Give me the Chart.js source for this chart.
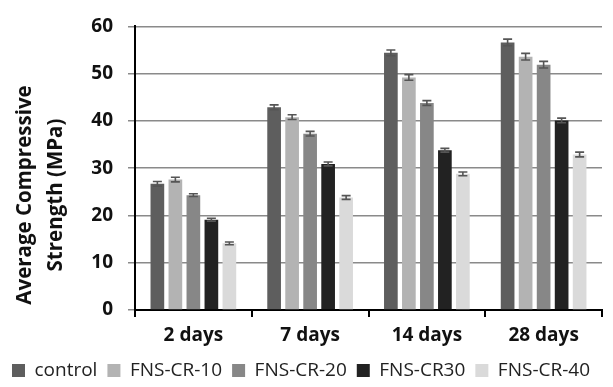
<!DOCTYPE html>
<html>
<head>
<meta charset="utf-8">
<script src="https://cdn.jsdelivr.net/npm/chart.js@4"></script>
<style>
  html, body { margin: 0; padding: 0; background: #fff; }
  #wrap { width: 613px; height: 387px; }
</style>
</head>
<body>
<div id="wrap"><canvas id="chart" width="613" height="387"></canvas></div>
<script>
const categories = ["2 days", "7 days", "14 days", "28 days"];
const seriesNames = ["control", "FNS-CR-10", "FNS-CR-20", "FNS-CR30", "FNS-CR-40"];
const control = [26.7, 42.9, 54.4, 56.6];
const fnsCr10 = [27.6, 40.8, 49.2, 53.6];
const fnsCr20 = [24.3, 37.3, 43.8, 51.9];
const fnsCr30 = [19.1, 30.9, 33.8, 40.1];
const fnsCr40 = [14.1, 23.8, 28.8, 32.9];
const errControl = [0.5, 0.5, 0.6, 0.7];
const errCr10 = [0.5, 0.5, 0.6, 0.7];
const errCr20 = [0.3, 0.5, 0.5, 0.7];
const errCr30 = [0.3, 0.4, 0.4, 0.5];
const errCr40 = [0.3, 0.4, 0.4, 0.5];
const yTicks = [0, 10, 20, 30, 40, 50, 60];
const yTitle = ["Average Compressive", "Strength (MPa)"];

const colors = ["#5e5e5e", "#b3b3b3", "#878787", "#222222", "#dadada"];
const values = [control, fnsCr10, fnsCr20, fnsCr30, fnsCr40];
const errors = [errControl, errCr10, errCr20, errCr30, errCr40];

// error bars drawn through the y scale
const errorBars = {
  id: "errorBars",
  afterDatasetsDraw(chart) {
    const ctx = chart.ctx;
    const y = chart.scales.y;
    ctx.save();
    ctx.strokeStyle = "#555555";
    ctx.lineWidth = 1.6;
    chart.data.datasets.forEach((ds, i) => {
      const meta = chart.getDatasetMeta(i);
      meta.data.forEach((bar, j) => {
        const v = ds.data[j], e = ds.errors[j];
        const top = y.getPixelForValue(v + e);
        const bot = y.getPixelForValue(v - e);
        const half = 4.5;
        ctx.beginPath();
        ctx.moveTo(bar.x, top); ctx.lineTo(bar.x, bot);
        ctx.moveTo(bar.x - half, top); ctx.lineTo(bar.x + half, top);
        ctx.moveTo(bar.x - half, bot); ctx.lineTo(bar.x + half, bot);
        ctx.stroke();
      });
    });
    ctx.restore();
  }
};

// y axis title, sits a bit below the middle like the original
const axisTitle = {
  id: "axisTitle",
  afterDraw(chart) {
    const ctx = chart.ctx;
    ctx.save();
    ctx.translate(0, 195);
    ctx.rotate(-Math.PI / 2);
    ctx.font = "bold 20.5px 'Open Sans'";
    ctx.fillStyle = "#111";
    ctx.textAlign = "center";
    ctx.textBaseline = "middle";
    ctx.fillText(yTitle[0], 0, 25);
    ctx.fillText(yTitle[1], 0, 56);
    ctx.restore();
  }
};

new Chart(document.getElementById("chart"), {
  type: "bar",
  data: {
    labels: categories,
    datasets: seriesNames.map((name, i) => ({
      label: name,
      data: values[i],
      errors: errors[i],
      backgroundColor: colors[i],
      borderWidth: 0,
      categoryPercentage: 0.771,
      barPercentage: 0.76
    }))
  },
  options: {
    responsive: false,
    animation: false,
    layout: { padding: { top: 22, right: 11, left: 0, bottom: -3 } },
    plugins: {
      legend: {
        position: "bottom",
        labels: {
          color: "#222",
          font: { family: "Open Sans", size: 19 },
          boxWidth: 13,
          boxHeight: 13,
          padding: 10
        }
      },
      tooltip: { enabled: false }
    },
    scales: {
      x: {
        afterFit: s => { s.height = 41; },
        grid: { drawOnChartArea: false, color: "#000", tickLength: 7, lineWidth: 2 },
        border: { color: "#000", width: 2 },
        ticks: { color: "#111", font: { family: "Open Sans", size: 19, weight: "bold" }, padding: 7 }
      },
      y: {
        min: 0,
        max: 60,
        afterBuildTicks: s => { s.ticks = yTicks.map(v => ({ value: v })); },
        afterFit: s => { s.width = 135; },
        grid: { color: "#8a8a8a", lineWidth: 1.5, tickLength: 7 },
        border: { color: "#000", width: 2 },
        ticks: { color: "#111", font: { family: "Open Sans", size: 19, weight: "bold" }, padding: 15 }
      }
    }
  },
  plugins: [errorBars, axisTitle]
});
</script>
</body>
</html>
